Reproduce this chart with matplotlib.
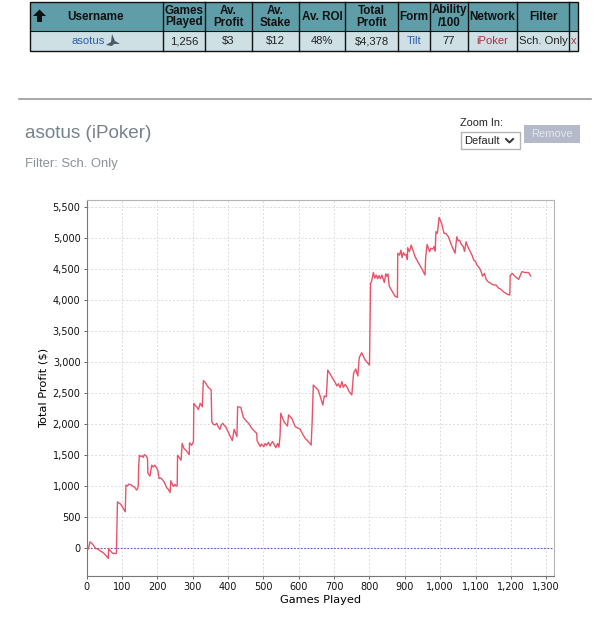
import numpy as np
from matplotlib import pyplot as plt
from matplotlib.patches import Rectangle, Polygon

### profit curve, one stretch per line
games = [0, 5, 9, 14, 19, 25, 30, 38, 47, 54, 61, 62, 71, 75, 84,
         87, 96, 102, 109, 111, 115, 119, 123, 128, 132, 136, 141, 144, 146, 147,
         149, 153, 157, 160, 163, 167, 172, 173, 179, 184, 188, 193, 197, 201,
         205, 209, 214, 220, 226, 231, 236, 238, 245, 250, 253, 256,
         257, 267, 270, 275, 282, 290, 291, 297, 302,
         303, 307, 311, 316, 321, 327, 330, 335, 344, 352,
         354, 358, 363, 368, 372, 377, 381, 385, 389, 393, 399, 406, 409, 412,
         417, 425, 427, 436, 443, 450, 458, 467, 474, 481, 482,
         491, 494, 497, 501, 505, 509, 514, 519, 522, 526, 530, 535, 540, 544, 547,
         549, 558, 568, 571, 580, 590, 604, 610, 618, 627, 635,
         638, 641, 646, 655, 661, 668, 672, 678,
         682, 693, 702, 708, 712, 717, 722, 726, 731, 736, 742, 750,
         755, 761, 767, 771, 778, 788, 800,
         803, 806, 811, 815, 819, 823, 827, 831, 835, 839, 842, 846, 849, 852, 856, 865, 872, 879,
         880, 885, 889, 892, 896, 900, 904, 907, 908, 913, 918, 929, 940, 950, 957,
         959, 963, 970, 974, 979, 983, 986,
         988, 992, 997, 1004, 1011, 1016, 1023, 1032, 1042,
         1047, 1051, 1055, 1060, 1065, 1069, 1073, 1078, 1085, 1090, 1095, 1100, 1104, 1110, 1115, 1120, 1125,
         1130, 1136, 1142, 1150, 1158, 1165, 1172, 1179, 1190, 1197,
         1198, 1204, 1213, 1222, 1227, 1231, 1241, 1250, 1256]
profit = [0, -10, 107, 85, 54, 0, -5, -38, -70, -110, -160, 0, -65, -80, -80,
          750, 713, 660, 590, 1020, 1005, 1035, 1030, 1015, 995, 985, 940, 960, 1020, 1330,
          1500, 1480, 1490, 1465, 1510, 1495, 1450, 1215, 1165, 1340, 1310, 1340, 1300, 1260,
          1125, 1135, 1110, 1060, 980, 950, 900, 1090, 1000, 1030, 1000, 1020,
          1500, 1420, 1690, 1610, 1570, 1510, 1700, 1660, 1720,
          2335, 2300, 2280, 2235, 2335, 2280, 2700, 2673, 2593, 2550,
          2040, 2000, 1987, 2014, 1960, 1917, 1990, 2014, 1980, 1960, 1890, 1800, 1770, 1735,
          1917, 1800, 2280, 2270, 2110, 2060, 2014, 1933, 1890, 1853, 1735,
          1640, 1680, 1665, 1640, 1690, 1660, 1708, 1650, 1690, 1720, 1680, 1622, 1690, 1630, 1815,
          2175, 2040, 1970, 2148, 2095, 1960, 1917, 1850, 1772, 1720, 1665,
          2067, 2630, 2600, 2550, 2440, 2308, 2453, 2442,
          2871, 2764, 2680, 2614, 2650, 2590, 2684, 2593, 2640, 2603, 2530, 2470,
          2817, 2888, 2775, 3070, 3150, 3030, 2950,
          4265, 4300, 4440, 4350, 4400, 4340, 4390, 4340, 4400, 4330, 4280, 4420, 4380, 4415, 4220, 4130, 4060, 4040,
          4750, 4720, 4800, 4680, 4760, 4720, 4730, 4650, 4840, 4775, 4880, 4695, 4580, 4480, 4400,
          4685, 4893, 4775, 4830, 4817, 4860, 4785,
          5097, 5070, 5327, 5230, 5070, 5070, 5016, 4880, 4750,
          5016, 4950, 4960, 4890, 4860, 4780, 4935, 4860, 4775, 4720, 4640, 4620, 4560, 4520, 4470, 4380, 4426,
          4330, 4290, 4270, 4240, 4240, 4190, 4170, 4130, 4090, 4078,
          4390, 4426, 4370, 4330, 4400, 4453, 4440, 4440, 4385]

xticks = list(range(0, 1301, 100))
yticks = list(range(0, 5501, 500))

### table contents
col_edges = [29.5, 163, 205, 252, 299, 345, 398, 430, 468, 517, 569, 578]
header_labels = ["Username", "Games\nPlayed", "Av.\nProfit", "Av.\nStake", "Av. ROI", "Total\nProfit", "Form",
                 "Ability\n/100", "Network", "Filter", ""]
row_labels = ["asotus", "1,256", "$3", "$12", "48%", "$4,378", "Tilt", "77", "iPoker", "Sch. Only", "x"]
row_colors = ["#2a5fa8", "#222222", "#222222", "#222222", "#222222", "#222222", "#2a5fa8", "#222222", "#a83240",
              "#222222", "#a83240"]

W, H = 601, 639
fig = plt.figure(figsize=(W / 100, H / 100), dpi=100)

### page furniture drawn in pixel coords
bg = fig.add_axes([0, 0, 1, 1])
bg.set_xlim(0, W)
bg.set_ylim(H, 0)
bg.axis('off')

sans = 'Liberation Sans'
top, mid, bot = 1.5, 30.5, 51
bg.add_patch(Rectangle((col_edges[0], top), col_edges[-1] - col_edges[0], mid - top, fc='#5f9ea9', ec='none'))
bg.add_patch(Rectangle((col_edges[0], mid), col_edges[-1] - col_edges[0], bot - mid, fc='#cfe0e5', ec='none'))
bg.add_patch(Rectangle((col_edges[0], top), col_edges[-1] - col_edges[0], bot - top, fc='none', ec='#111111', lw=1))
bg.plot([col_edges[0], col_edges[-1]], [mid, mid], color='#111111', lw=0.8)
for e in col_edges[1:-1]:
    bg.plot([e, e], [top, bot], color='#111111', lw=1)

for i in range(len(header_labels)):
    cx = (col_edges[i] + col_edges[i + 1]) / 2
    bg.text(cx if i else 96, (top + mid) / 2 + 0.5, header_labels[i], ha='center', va='center', fontsize=8.4,
            fontweight='bold', family=sans, color='#111111', linespacing=1.0)
    bg.text(cx if i else 88, (mid + bot) / 2 + 0.5, row_labels[i], ha='center', va='center', fontsize=8.1,
            family=sans, color=row_colors[i])

### sort arrow and little shark
bg.add_patch(Polygon([(33, 16), (39.5, 9.5), (46, 16), (42, 16), (42, 22), (37, 22), (37, 16)], fc='#111111', ec='none'))
bg.add_patch(Polygon([(106, 45), (111, 42), (112, 34), (115, 41), (120, 44), (114, 44), (112, 46)], fc='#4a5a68', ec='none'))

bg.plot([19, 591], [98.5, 98.5], color='#9a9a9a', lw=1.2)
bg.text(25, 134, "asotus (iPoker)", fontsize=13.6, family=sans, color='#77838c', va='center')
bg.text(25, 163.5, "Filter: Sch. Only", fontsize=9.4, family=sans, color='#8a9299', va='center')

bg.text(460, 123.5, "Zoom In:", fontsize=7.8, family=sans, color='#222222', va='center')
bg.add_patch(Rectangle((460.5, 132), 59, 17, fc='white', ec='#b5b5b5', lw=1))
bg.text(464, 140.5, "Default", fontsize=8, family=sans, color='#222222', va='center')
bg.plot([506, 509.5, 513], [139, 142.5, 139], color='#333333', lw=1.4)
bg.add_patch(Rectangle((524, 125), 56, 17.5, fc='#b4bac9', ec='none'))
bg.text(552, 134, "Remove", fontsize=8, family=sans, color='#e4e6ec', ha='center', va='center')

### chart
x0, x1, y_top, y_bot = 86.7, 554, 200, 575.7
ax = fig.add_axes([x0 / W, 1 - y_bot / H, (x1 - x0) / W, (y_bot - y_top) / H])
ax.patch.set_alpha(0)
ax.plot(games, profit, color='#e8536a', lw=1.0, zorder=3)
ax.axhline(0, color='#5a5ac8', lw=0.8, ls=(0, (1.5, 1.5)), zorder=2)

ax.set_xlim(0, 1322)
ax.set_ylim(-438, 5607)
ax.set_xticks(xticks)
ax.set_yticks(yticks)
ax.set_xticklabels([f'{v:,}' for v in xticks])
ax.set_yticklabels([f'{v:,}' for v in yticks])
ax.tick_params(axis='both', labelsize=7, length=2.5, width=0.7, color='#666666', pad=2, labelcolor='#111111')
ax.grid(True, color='#dcdcdc', lw=0.7, ls=(0, (2, 2)))
ax.set_axisbelow(True)
ax.set_xlabel("Games Played", fontsize=8.2, labelpad=2)
ax.set_ylabel("Total Profit ($)", fontsize=8.2, labelpad=3)
for side in ['left', 'bottom']:
    ax.spines[side].set_color('#777777')
for side in ['top', 'right']:
    ax.spines[side].set_color('#b5b5b5')

fig.savefig("out.png", dpi=100)
